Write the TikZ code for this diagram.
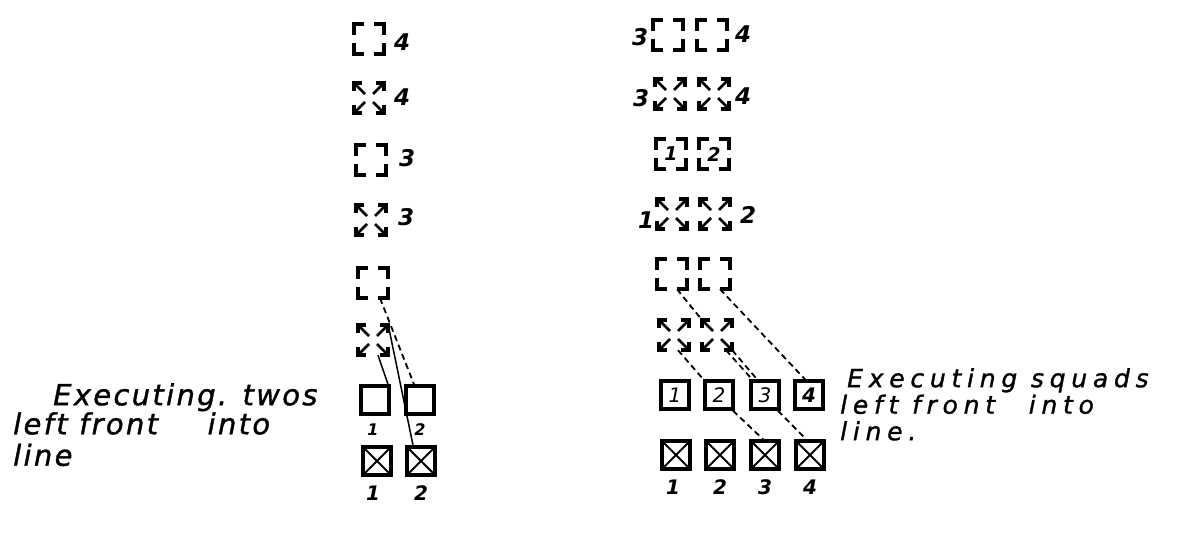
\documentclass[tikz,border=0pt]{standalone}
\usepackage{fontspec}
\newfontfamily\handA[LetterSpace=8,FakeBold=1.2]{DejaVu Sans}
\newfontfamily\handB[LetterSpace=23,FakeBold=1.2]{DejaVu Sans}
\newfontfamily\digitfam{DejaVu Sans}
\newcommand\drawbrackets{%
  \draw[sym] (-15,-4)--(-15,-15)--(-5,-15) (5,-15)--(15,-15)--(15,-4)
             (15,4)--(15,15)--(5,15) (-5,15)--(-15,15)--(-15,4);}
\newcommand\drawarrows{%
  \foreach \sx/\sy in {1/1,1/-1,-1/1,-1/-1}{%
    \draw[sym] (\sx*15,\sy*7)--(\sx*15,\sy*15)--(\sx*7,\sy*15);
    \draw[sym,line width=2.6pt] (\sx*15,\sy*15)--(\sx*4,\sy*4);
  }}
\tikzset{
  sym/.style={line width=3.2pt},
  cell/.style={rectangle, minimum width=30pt, minimum height=30pt, inner sep=0pt},
  infont/.style={font={\digitfam\itshape\fontsize{20}{20}\selectfont}},
  solidsq/.style={rectangle, draw, line width=3.5pt, minimum width=28pt, minimum height=28pt, inner sep=0pt, infont},
  xsq/.style={solidsq, path picture={\draw[line width=2pt]
      (path picture bounding box.north west) -- (path picture bounding box.south east)
      (path picture bounding box.north east) -- (path picture bounding box.south west);}},
  pics/bracketsq/.style={code={\node[cell] (-c) {}; \drawbrackets}},
  pics/arrowsq/.style={code={\node[cell] (-c) {}; \drawarrows}},
  pics/numbracket/.style={code={\node[cell, font={\digitfam\bfseries\itshape\fontsize{19}{19}\selectfont}] (-c) {#1}; \drawbrackets}},
  rowlab/.style={inner sep=0pt, font={\digitfam\bfseries\itshape\fontsize{23}{23}\selectfont}},
  botlab/.style={inner sep=0pt, font={\digitfam\bfseries\itshape\fontsize{20}{20}\selectfont}},
  smalllab/.style={inner sep=0pt, font={\digitfam\bfseries\itshape\fontsize{16}{16}\selectfont}},
  handL/.style={inner sep=0pt, anchor=north west, align=left, font={\handA\itshape\fontsize{29}{22}\selectfont}},
  handR/.style={inner sep=0pt, anchor=north west, align=left, font={\handB\itshape\fontsize{25}{26.5}\selectfont}},
  conn/.style={line width=1.8pt, dash pattern=on 6pt off 4pt},
  thin/.style={line width=1.5pt},
}
\begin{document}
\begin{tikzpicture}[x=1pt,y=-1pt]
\useasboundingbox[fill=white] (0,0) rectangle (1183,534);

% ---------- left column ----------
\pic (L1) at (369,39) {bracketsq};
\pic (L2) at (369,98) {arrowsq};
\pic (L3) at (371,160) {bracketsq};
\pic (L4) at (371,220) {arrowsq};
\pic (L5) at (373,283) {bracketsq};
\pic (L6) at (373,340) {arrowsq};
\node[solidsq] (L7a) at (375,400) {};
\node[solidsq] (L7b) at (420,400) {};
\node[xsq] (L8a) at (377,461) {};
\node[xsq] (L8b) at (421,461) {};

\node[rowlab] (l1) at (402,42) {4};
\node[rowlab] (l2) at (402,97) {4};
\node[rowlab] (l3) at (407,158) {3};
\node[rowlab] (l4) at (406,217) {3};
\node[smalllab] (l7a) at (373,430) {1};
\node[smalllab] (l7b) at (420,430) {2};
\node[botlab] (l8a) at (373,493) {1};
\node[botlab] (l8b) at (421,493) {2};

\draw[conn] ([xshift=7pt]L5-c.south) -- ([xshift=-6pt]L7b.north);
\draw[thin] (L6-c.north east) -- ([xshift=-8pt]L8b.north);
\draw[thin] ([xshift=5pt]L6-c.south) -- ([xshift=13pt]L7a.north);

% ---------- right column ----------
\pic (R1a) at (668,35) {bracketsq};
\pic (R1b) at (712,35) {bracketsq};
\pic (R2a) at (670,94) {arrowsq};
\pic (R2b) at (714,94) {arrowsq};
\pic (R3a) at (671,154) {numbracket=1};
\pic (R3b) at (714,154) {numbracket=2};
\pic (R4a) at (672,214) {arrowsq};
\pic (R4b) at (715,214) {arrowsq};
\pic (R5a) at (672,274) {bracketsq};
\pic (R5b) at (715,274) {bracketsq};
\pic (R6a) at (674,335) {arrowsq};
\pic (R6b) at (717,335) {arrowsq};
\node[solidsq] (R7a) at (675,395) {1};
\node[solidsq] (R7b) at (719,395) {2};
\node[solidsq] (R7c) at (765,395) {3};
\node[solidsq, font={\digitfam\bfseries\itshape\fontsize{20}{20}\selectfont}] (R7d) at (809,395) {4};
\node[xsq] (R8a) at (676,455) {};
\node[xsq] (R8b) at (720,455) {};
\node[xsq] (R8c) at (765,455) {};
\node[xsq] (R8d) at (810,455) {};

\node[rowlab] (r1a) at (640,37) {3};
\node[rowlab] (r1b) at (743,34) {4};
\node[rowlab] (r2a) at (641,98) {3};
\node[rowlab] (r2b) at (743,96) {4};
\node[rowlab] (r4a) at (646,220) {1};
\node[rowlab] (r4b) at (748,215) {2};
\node[botlab] (r8a) at (673,487) {1};
\node[botlab] (r8b) at (720,487) {2};
\node[botlab] (r8c) at (765,487) {3};
\node[botlab] (r8d) at (810,487) {4};

\draw[conn] ([xshift=5pt]R5a-c.south) -- (R6b-c.north west);
\draw[conn] ([xshift=9pt]R6b-c.south) -- ([xshift=-13pt]R7c.north);
\draw[conn] (R6b-c.south east) -- ([xshift=-8pt]R7c.north);
\draw[conn] ([xshift=5pt]R5b-c.south) -- ([xshift=-4pt]R7d.north);
\draw[conn] ([xshift=4pt]R6a-c.south) -- (R7b.north west);
\draw[conn] ([xshift=14pt]R7b.south) -- ([xshift=-2pt]R8c.north);
\draw[conn] ([xshift=13pt]R7c.south) -- ([xshift=-4pt]R8d.north);

% ---------- captions ----------
\node[handL] (capL) at (13,383)
  {\hspace*{40pt}Executing. twos\\left front\hspace{38pt} into\\[8pt]line};
\node[handR] (capR) at (847,368)
  {Executing squads\\\hspace*{-7pt}left front\hspace{20pt} into\\\hspace*{-7pt}line.};
\end{tikzpicture}
\end{document}
